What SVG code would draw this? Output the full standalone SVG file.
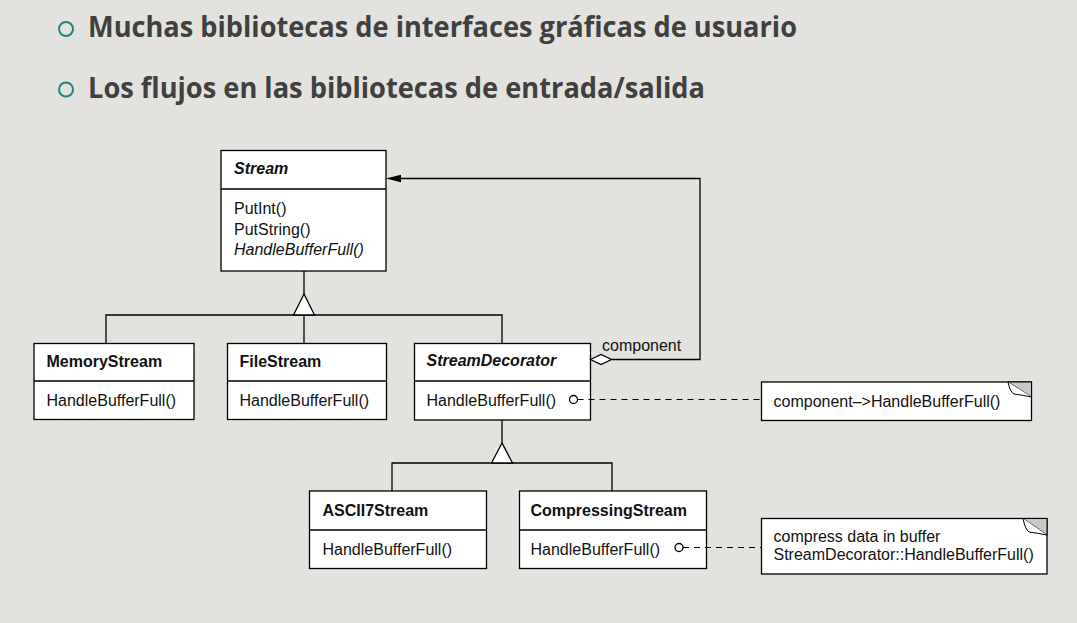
<svg xmlns="http://www.w3.org/2000/svg" width="1077" height="623" viewBox="0 0 1077 623">
<style>
.box{fill:#fff;stroke:#000;stroke-width:1.3}
.ln{fill:none;stroke:#000;stroke-width:1.3}
.dash{fill:none;stroke:#000;stroke-width:1.2;stroke-dasharray:6 5}
.t{font-family:"Liberation Sans",Arial,sans-serif;font-size:16px;fill:#111}
.b{font-weight:bold}
.i{font-style:italic}
.h{font-family:"Open Sans","Noto Sans",sans-serif;font-weight:bold;font-size:28px;fill:#404040}
.bul{fill:none;stroke:#1b8686;stroke-width:2}
</style>
<rect width="1077" height="623" fill="#e3e2de"/>
<g id="header">
<circle class="bul" cx="66" cy="29" r="7"/>
<text class="h" x="88" y="37" textLength="709" lengthAdjust="spacingAndGlyphs">Muchas bibliotecas de interfaces gráficas de usuario</text>
<circle class="bul" cx="66" cy="89.5" r="7"/>
<text class="h" x="88" y="98" textLength="617" lengthAdjust="spacingAndGlyphs">Los flujos en las bibliotecas de entrada/salida</text>
</g>
<g id="Stream">
<rect class="box" x="221" y="150.5" width="165" height="120.5"/>
<line class="ln" x1="221" y1="189" x2="386" y2="189"/>
<text class="t b i" x="234" y="173.5">Stream</text>
<text class="t" x="234" y="213.5">PutInt()</text>
<text class="t" x="234" y="234.5">PutString()</text>
<text class="t i" x="234" y="255">HandleBufferFull()</text>
</g>
<g id="MemoryStream">
<rect class="box" x="34" y="343.5" width="160" height="76"/>
<line class="ln" x1="34" y1="381" x2="194" y2="381"/>
<text class="t b" x="46.5" y="366.5">MemoryStream</text>
<text class="t" x="46.5" y="405.5">HandleBufferFull()</text>
</g>
<g id="FileStream">
<rect class="box" x="227.5" y="343.5" width="159" height="76"/>
<line class="ln" x1="227.5" y1="381" x2="386.5" y2="381"/>
<text class="t b" x="239.5" y="366.5">FileStream</text>
<text class="t" x="239.5" y="405.5">HandleBufferFull()</text>
</g>
<g id="StreamDecorator">
<rect class="box" x="414.5" y="343.5" width="176" height="76.5"/>
<line class="ln" x1="414.5" y1="381" x2="590.5" y2="381"/>
<text class="t b i" x="426.5" y="366">StreamDecorator</text>
<text class="t" x="426.5" y="406">HandleBufferFull()</text>
</g>
<g id="ASCII7Stream">
<rect class="box" x="309.5" y="491" width="177" height="77.5"/>
<line class="ln" x1="309.5" y1="530" x2="486.5" y2="530"/>
<text class="t b" x="322.5" y="516">ASCII7Stream</text>
<text class="t" x="322.5" y="555">HandleBufferFull()</text>
</g>
<g id="CompressingStream">
<rect class="box" x="519.5" y="491" width="187" height="77.5"/>
<line class="ln" x1="519.5" y1="530" x2="706.5" y2="530"/>
<text class="t b" x="530.5" y="516">CompressingStream</text>
<text class="t" x="530.5" y="555">HandleBufferFull()</text>
</g>
<g id="note1">
<rect class="box" x="761.5" y="382" width="270" height="38.5"/>
<polygon points="1008,382 1031.5,382 1031.5,397" fill="#c8c8c8" stroke="#000" stroke-width="1"/>
<path d="M1008 382Q1010 392 1014 394Q1022 395 1031.5 397" fill="#fff" stroke="#000" stroke-width="1"/>
<text class="t" x="773.5" y="407">component–&gt;HandleBufferFull()</text>
</g>
<g id="note2">
<rect class="box" x="761.5" y="518.5" width="285.5" height="55.5"/>
<polygon points="1023,518.5 1047,518.5 1047,535" fill="#c8c8c8" stroke="#000" stroke-width="1"/>
<path d="M1023 518.5Q1025 529 1029 532Q1037 533 1047 535" fill="#fff" stroke="#000" stroke-width="1"/>
<text class="t" x="773.5" y="542">compress data in buffer</text>
<text class="t" x="773.5" y="559.5">StreamDecorator::HandleBufferFull()</text>
</g>
<g id="connectors">
<path class="ln" d="M304 271V294M304 315V343M106 343V315H502V343"/>
<polygon class="box" points="304,294 293.5,315 314.5,315"/>
<path class="ln" d="M502 420V443M392 491V463H612V491"/>
<polygon class="box" points="502,443 491.5,463 512.5,463"/>
<path class="ln" d="M612 359.5H700V178.5H399"/>
<polygon points="386,178.5 401,174.8 401,182.2" fill="#000"/>
<polygon class="box" points="590.5,359.5 601,354.5 611.5,359.5 601,364.5"/>
<text class="t" x="602" y="351">component</text>
<circle class="box" cx="573.5" cy="399.5" r="4"/>
<path class="dash" d="M577.5 399.5H761"/>
<circle class="box" cx="679" cy="547.5" r="4"/>
<path class="dash" d="M683 547.5H761"/>
</g>
</svg>
